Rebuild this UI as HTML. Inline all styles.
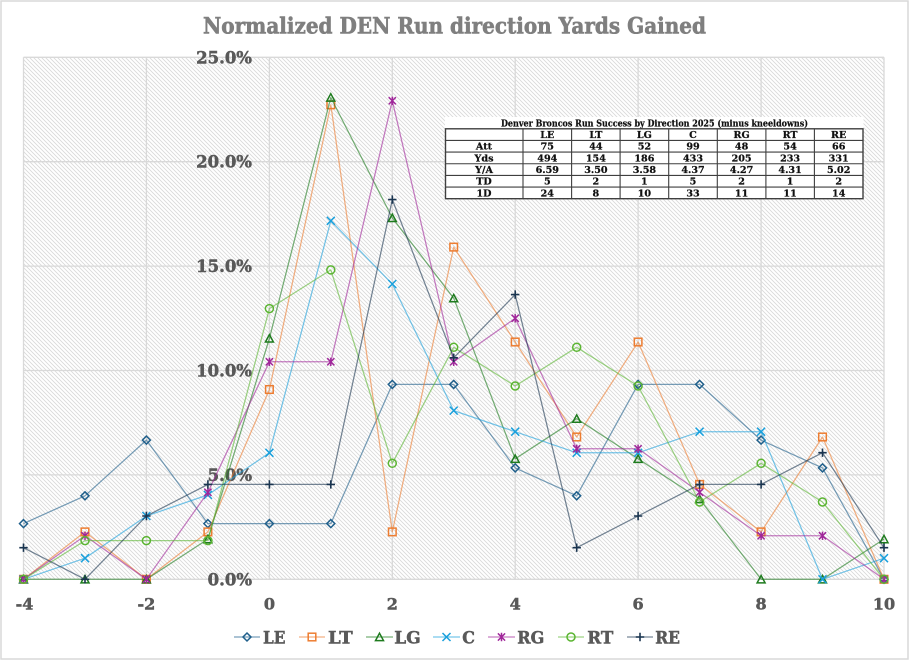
<!DOCTYPE html>
<html><head><meta charset="utf-8"><style>
html,body{margin:0;padding:0;background:#fff;}
svg{display:block;}
text{font-family:"DejaVu Serif","Liberation Serif",serif;font-weight:bold;}
</style></head><body>
<svg width="910" height="661" viewBox="0 0 910 661" xmlns="http://www.w3.org/2000/svg">
<defs>
<pattern id="hatch" patternUnits="userSpaceOnUse" width="4" height="4">
<rect width="4" height="4" fill="#ffffff"/>
<path d="M0,0 L4,4 M-1,3 L1,5 M3,-1 L5,1" stroke="#d8d8d8" stroke-width="0.8"/>
</pattern>
<marker id="mLE" markerWidth="12" markerHeight="12" refX="6" refY="6" markerUnits="userSpaceOnUse" overflow="visible">
<polygon points="6,2 10,6 6,10 2,6" fill="none" stroke="#1f5f8b" stroke-width="1.5"/></marker>
<marker id="mLT" markerWidth="12" markerHeight="12" refX="6" refY="6" markerUnits="userSpaceOnUse" overflow="visible">
<rect x="2.2" y="2.2" width="7.6" height="7.6" fill="none" stroke="#ed7d31" stroke-width="1.5"/></marker>
<marker id="mLG" markerWidth="12" markerHeight="12" refX="6" refY="6" markerUnits="userSpaceOnUse" overflow="visible">
<polygon points="6,2.2 10,9.6 2,9.6" fill="none" stroke="#1e7b1e" stroke-width="1.5"/></marker>
<marker id="mC" markerWidth="12" markerHeight="12" refX="6" refY="6" markerUnits="userSpaceOnUse" overflow="visible">
<path d="M2,2 L10,10 M2,10 L10,2" stroke="#1aa0dc" stroke-width="1.5" fill="none"/></marker>
<marker id="mRG" markerWidth="12" markerHeight="12" refX="6" refY="6" markerUnits="userSpaceOnUse" overflow="visible">
<path d="M2.4,2.4 L9.6,9.6 M2.4,9.6 L9.6,2.4 M6,1.8 L6,10.2" stroke="#a0279a" stroke-width="1.5" fill="none"/></marker>
<marker id="mRT" markerWidth="12" markerHeight="12" refX="6" refY="6" markerUnits="userSpaceOnUse" overflow="visible">
<circle cx="6" cy="6" r="4" fill="none" stroke="#5bb532" stroke-width="1.5"/></marker>
<marker id="mRE" markerWidth="12" markerHeight="12" refX="6" refY="6" markerUnits="userSpaceOnUse" overflow="visible">
<path d="M1.8,6 L10.2,6 M6,1.8 L6,10.2" stroke="#1a3550" stroke-width="1.6" fill="none"/></marker>
</defs>

<rect x="0" y="0" width="910" height="661" fill="#fff"/>
<rect x="1" y="1" width="907" height="658" fill="#fff" stroke="#d9d9d9" stroke-width="1.5"/>

<text x="203" y="33.3" font-size="22" fill="#7f7f7f" stroke="#7f7f7f" stroke-width="0.6" textLength="503" lengthAdjust="spacingAndGlyphs">Normalized DEN Run direction Yards Gained</text>

<rect x="23.5" y="57.3" width="860.5" height="522" fill="url(#hatch)"/>
<g stroke="#d9d9d9" stroke-width="1.3" fill="none">
<path d="M23.5,57.3 H884 M23.5,161.7 H884 M23.5,266.1 H884 M23.5,370.5 H884 M23.5,474.9 H884 M23.5,579.3 H884"/>
<path d="M23.5,57.3 V579.3 M146.4,57.3 V579.3 M269.4,57.3 V579.3 M392.3,57.3 V579.3 M515.2,57.3 V579.3 M638.1,57.3 V579.3 M761.1,57.3 V579.3 M884,57.3 V579.3"/>
</g>

<g font-size="16.5" fill="#595959" stroke="#595959" stroke-width="0.5" text-anchor="end">
<text x="252" y="63.3">25.0%</text>
<text x="252" y="167.7">20.0%</text>
<text x="252" y="272.1">15.0%</text>
<text x="252" y="376.5">10.0%</text>
<text x="252" y="480.9">5.0%</text>
<text x="252" y="585.3">0.0%</text>
</g>

<g font-size="16" fill="#595959" stroke="#595959" stroke-width="0.5" text-anchor="middle">
<text x="24.5" y="609.3">-4</text>
<text x="146.4" y="609.3">-2</text>
<text x="269.4" y="609.3">0</text>
<text x="392.3" y="609.3">2</text>
<text x="515.2" y="609.3">4</text>
<text x="638.1" y="609.3">6</text>
<text x="761.1" y="609.3">8</text>
<text x="884" y="609.3">10</text>
</g>

<g fill="none" stroke-width="1.25" stroke-linejoin="round">
<polyline stroke="#1f5f8b" stroke-opacity="0.6" marker-start="url(#mLE)" marker-mid="url(#mLE)" marker-end="url(#mLE)"
points="23.5,523.6 85,495.8 146.4,440.1 207.9,523.6 269.4,523.6 330.8,523.6 392.3,384.4 453.7,384.4 515.2,467.9 576.7,495.8 638.1,384.4 699.6,384.4 761.1,440.1 822.5,467.9 884,579.3"/>
<polyline stroke="#ed7d31" stroke-opacity="0.6" marker-start="url(#mLT)" marker-mid="url(#mLT)" marker-end="url(#mLT)"
points="23.5,579.3 85,531.9 146.4,579.3 207.9,531.9 269.4,389.5 330.8,104.8 392.3,531.9 453.7,247.1 515.2,342 576.7,437 638.1,342 699.6,484.4 761.1,531.9 822.5,437 884,579.3"/>
<polyline stroke="#1e7b1e" stroke-opacity="0.6" marker-start="url(#mLG)" marker-mid="url(#mLG)" marker-end="url(#mLG)"
points="23.5,579.3 85,579.3 146.4,579.3 207.9,539.1 269.4,338.4 330.8,97.5 392.3,217.9 453.7,298.2 515.2,458.8 576.7,418.7 638.1,458.8 699.6,499 761.1,579.3 822.5,579.3 884,539.1"/>
<polyline stroke="#1aa0dc" stroke-opacity="0.6" marker-start="url(#mC)" marker-mid="url(#mC)" marker-end="url(#mC)"
points="23.5,579.3 85,558.2 146.4,516 207.9,494.9 269.4,452.8 330.8,220.8 392.3,284 453.7,410.6 515.2,431.7 576.7,452.8 638.1,452.8 699.6,431.7 761.1,431.7 822.5,579.3 884,558.2"/>
<polyline stroke="#a0279a" stroke-opacity="0.6" marker-start="url(#mRG)" marker-mid="url(#mRG)" marker-end="url(#mRG)"
points="23.5,579.3 85,535.8 146.4,579.3 207.9,492.3 269.4,361.8 330.8,361.8 392.3,100.8 453.7,361.8 515.2,318.3 576.7,448.8 638.1,448.8 699.6,492.3 761.1,535.8 822.5,535.8 884,579.3"/>
<polyline stroke="#5bb532" stroke-opacity="0.6" marker-start="url(#mRT)" marker-mid="url(#mRT)" marker-end="url(#mRT)"
points="23.5,579.3 85,540.6 146.4,540.6 207.9,540.6 269.4,308.6 330.8,269.9 392.3,463.3 453.7,347.3 515.2,386 576.7,347.3 638.1,386 699.6,502 761.1,463.3 822.5,502 884,579.3"/>
<polyline stroke="#1a3550" stroke-opacity="0.6" marker-start="url(#mRE)" marker-mid="url(#mRE)" marker-end="url(#mRE)"
points="23.5,547.7 85,579.3 146.4,516 207.9,484.4 269.4,484.4 330.8,484.4 392.3,199.6 453.7,357.8 515.2,294.6 576.7,547.7 638.1,516 699.6,484.4 761.1,484.4 822.5,452.7 884,547.7"/>
</g>

<rect x="445" y="117" width="418.5" height="82" fill="#ffffff"/>
<text x="501" y="126.5" font-size="9.6" fill="#111" stroke="#111" stroke-width="0.25" textLength="307" lengthAdjust="spacingAndGlyphs">Denver Broncos Run Success by Direction 2025 (minus kneeldowns)</text>
<g stroke="#3f3f3f" stroke-width="1.1" fill="none">
<rect x="445.5" y="128.8" width="417.5" height="69.9" stroke-width="1.4"/>
<path d="M445.5,140.45 H863 M445.5,152.1 H863 M445.5,163.75 H863 M445.5,175.4 H863 M445.5,187.05 H863"/>
<path d="M523,128.8 V198.7 M571.6,128.8 V198.7 M620.1,128.8 V198.7 M668.7,128.8 V198.7 M717.3,128.8 V198.7 M765.9,128.8 V198.7 M814.4,128.8 V198.7"/>
</g>
<g font-size="9.6" fill="#111" stroke="#111" stroke-width="0.25" text-anchor="middle">
<text x="547.3" y="138">LE</text><text x="595.9" y="138">LT</text><text x="644.4" y="138">LG</text><text x="693" y="138">C</text><text x="741.6" y="138">RG</text><text x="790.1" y="138">RT</text><text x="838.7" y="138">RE</text>
<text x="484" y="149.7">Att</text><text x="547.3" y="149.7">75</text><text x="595.9" y="149.7">44</text><text x="644.4" y="149.7">52</text><text x="693" y="149.7">99</text><text x="741.6" y="149.7">48</text><text x="790.1" y="149.7">54</text><text x="838.7" y="149.7">66</text>
<text x="484" y="161.3">Yds</text><text x="547.3" y="161.3">494</text><text x="595.9" y="161.3">154</text><text x="644.4" y="161.3">186</text><text x="693" y="161.3">433</text><text x="741.6" y="161.3">205</text><text x="790.1" y="161.3">233</text><text x="838.7" y="161.3">331</text>
<text x="484" y="173">Y/A</text><text x="547.3" y="173">6.59</text><text x="595.9" y="173">3.50</text><text x="644.4" y="173">3.58</text><text x="693" y="173">4.37</text><text x="741.6" y="173">4.27</text><text x="790.1" y="173">4.31</text><text x="838.7" y="173">5.02</text>
<text x="484" y="184.6">TD</text><text x="547.3" y="184.6">5</text><text x="595.9" y="184.6">2</text><text x="644.4" y="184.6">1</text><text x="693" y="184.6">5</text><text x="741.6" y="184.6">2</text><text x="790.1" y="184.6">1</text><text x="838.7" y="184.6">2</text>
<text x="484" y="196.3">1D</text><text x="547.3" y="196.3">24</text><text x="595.9" y="196.3">8</text><text x="644.4" y="196.3">10</text><text x="693" y="196.3">33</text><text x="741.6" y="196.3">11</text><text x="790.1" y="196.3">11</text><text x="838.7" y="196.3">14</text>
</g>

<g fill="none" stroke-width="1.25">
<polyline stroke="#1f5f8b" stroke-opacity="0.6" points="234,637 247,637 260,637" marker-mid="url(#mLE)"/>
<polyline stroke="#ed7d31" stroke-opacity="0.6" points="299,637 312,637 325,637" marker-mid="url(#mLT)"/>
<polyline stroke="#1e7b1e" stroke-opacity="0.6" points="366,637 379.5,637 393,637" marker-mid="url(#mLG)"/>
<polyline stroke="#1aa0dc" stroke-opacity="0.6" points="433,637 446.5,637 460,637" marker-mid="url(#mC)"/>
<polyline stroke="#a0279a" stroke-opacity="0.6" points="488,637 501.5,637 515,637" marker-mid="url(#mRG)"/>
<polyline stroke="#5bb532" stroke-opacity="0.6" points="558,637 571,637 584,637" marker-mid="url(#mRT)"/>
<polyline stroke="#1a3550" stroke-opacity="0.6" points="627,637 640,637 653,637" marker-mid="url(#mRE)"/>
</g>
<g font-size="17" fill="#595959" stroke="#595959" stroke-width="0.5">
<text x="263" y="643.3" textLength="22.5" lengthAdjust="spacingAndGlyphs">LE</text>
<text x="328" y="643.3" textLength="24.7" lengthAdjust="spacingAndGlyphs">LT</text>
<text x="394.3" y="643.3" textLength="26.4" lengthAdjust="spacingAndGlyphs">LG</text>
<text x="462.3" y="643.3" textLength="12.7" lengthAdjust="spacingAndGlyphs">C</text>
<text x="517.3" y="643.3" textLength="27" lengthAdjust="spacingAndGlyphs">RG</text>
<text x="587.3" y="643.3" textLength="26" lengthAdjust="spacingAndGlyphs">RT</text>
<text x="655.3" y="643.3" textLength="24.7" lengthAdjust="spacingAndGlyphs">RE</text>
</g>
</svg>
</body></html>
